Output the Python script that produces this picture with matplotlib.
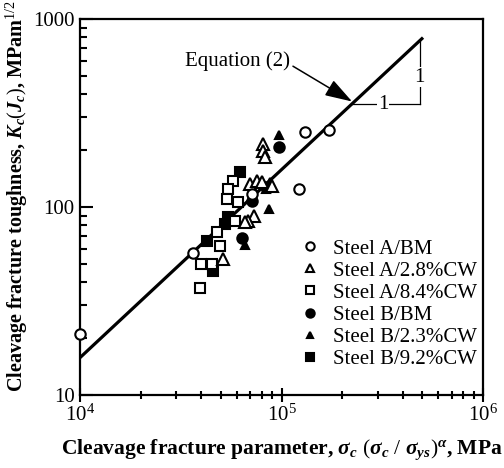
"""Cleavage fracture toughness vs cleavage fracture parameter (log-log)."""
import matplotlib
matplotlib.use("Agg")
import numpy as np
import matplotlib.pyplot as plt

plt.rcParams["font.family"] = ["Liberation Serif", "DejaVu Serif"]
plt.rcParams["mathtext.fontset"] = "custom"
plt.rcParams["mathtext.rm"] = "Liberation Serif"
plt.rcParams["mathtext.it"] = "Liberation Serif:italic:bold"
plt.rcParams["mathtext.bf"] = "Liberation Serif:bold"

# data: (parameter [MPa], Kc [MPa m^1/2])
a_bm_x = [10000, 36400, 71400, 122000, 130800, 172000]
a_bm_y = [21, 57, 117, 125, 252, 258]
a_28_x = [81000, 81000, 82800, 69800, 75600, 80000, 89700, 73000, 68200, 65900, 51300]
a_28_y = [217, 199, 185, 133, 138, 136, 130, 90, 84, 83, 52.7]
a_84_x = [57400, 54300, 53600, 60800, 58800, 47900, 49500, 39900, 45200, 39400]
a_84_y = [138, 125, 110, 106, 84, 74, 62, 50, 50, 37]
b_bm_x = [97200, 71400, 63700, 84000]
b_bm_y = [209, 108, 68, 128]
b_23_x = [97200, 86700, 65900, 84000, 88000]
b_23_y = [243, 98, 63, 125, 135]
b_92_x = [62200, 54300, 52400, 42500, 45500]
b_92_y = [154, 88, 81, 66, 45.5]

# Equation (2): Kc = C * parameter (slope 1 on log-log)
eq_c = 1.58e-3
eq_x = [1e4, 5.04e5]

SERIES = [
    (b_92_x, b_92_y, "s", "black", "Steel B/9.2%CW"),
    (b_23_x, b_23_y, "^", "black", "Steel B/2.3%CW"),
    (b_bm_x, b_bm_y, "o", "black", "Steel B/BM"),
    (a_84_x, a_84_y, "s", "white", "Steel A/8.4%CW"),
    (a_28_x, a_28_y, "^", "white", "Steel A/2.8%CW"),
    (a_bm_x, a_bm_y, "o", "white", "Steel A/BM"),
]
LEGEND_ORDER = ["Steel A/BM", "Steel A/2.8%CW", "Steel A/8.4%CW",
                "Steel B/BM", "Steel B/2.3%CW", "Steel B/9.2%CW"]

fig = plt.figure(figsize=(5.04, 4.68), dpi=100)
ax = fig.add_axes([80 / 504, 1 - 395 / 468, 403 / 504, 376 / 468])

ax.plot(eq_x, [eq_c * v for v in eq_x], color="black", lw=2.3, zorder=2,
        solid_capstyle="butt")

handles = {}
for xs, ys, mk, fc, lab in SERIES:
    sz = 7.5 if mk != "^" else 8
    if fc == "black" and mk == "^":
        sz = 6
    h, = ax.plot(xs, ys, ls="none", marker=mk, ms=sz, mfc=fc, mec="black",
                 mew=1.5, label=lab, zorder=3, clip_on=False)
    handles[lab] = h

# slope triangle
x_corner, y_top = 4.86e5, 763
y_h = 351
ax.plot([y_h / eq_c, x_corner], [y_h, y_h], color="black", lw=0.9)
ax.plot([x_corner, x_corner], [y_top, y_h], color="black", lw=0.9)
ax.text(3.2e5, y_h, "1", fontsize=15, ha="center", va="center",
        bbox=dict(fc="white", ec="none", pad=0.5))
ax.text(x_corner, 490, "1", fontsize=15, ha="center", va="center",
        bbox=dict(fc="white", ec="none", pad=0.5))

# Equation (2) callout
ax.text(6.08e4, 596, "Equation (2)", fontsize=15, ha="center", va="center")
ax.annotate("", xy=(2.24e5, 364), xytext=(1.14e5, 561),
            arrowprops=dict(arrowstyle="-|>,head_length=1.4,head_width=0.45",
                            color="black", lw=1.1, mutation_scale=12,
                            shrinkA=0, shrinkB=0))

ax.set_xscale("log")
ax.set_yscale("log")
ax.set_xlim(1e4, 1e6)
ax.set_ylim(10, 1000)
ax.set_yticks([10, 100, 1000])
ax.set_yticklabels(["10", "100", "1000"])
ax.set_xticks([1e4, 1e5, 1e6])
ax.set_xticklabels([r"$\mathrm{10^4}$", r"$\mathrm{10^5}$", r"$\mathrm{10^6}$"])
ax.tick_params(axis="y", which="major", direction="in", length=9, width=1.5,
               labelsize=15, pad=4)
ax.tick_params(axis="y", which="minor", direction="in", length=5, width=1.5)
ax.tick_params(axis="x", which="major", direction="inout", length=10, width=1.5,
               labelsize=15, pad=2)
ax.tick_params(axis="x", which="minor", direction="inout", length=6, width=1.5)
ax.tick_params(top=False, right=False, which="both")
for sp in ax.spines.values():
    sp.set_linewidth(1.6)

ax.set_xlabel(r"Cleavage fracture parameter, $\sigma_c\ (\sigma_c\ /\ \sigma_{ys})^{\alpha}$, MPa",
              fontsize=15.5, fontweight="bold", labelpad=8)
ax.set_ylabel(r"Cleavage fracture toughness, $K_c(J_c)$, MPam$^{1/2}$",
              fontsize=14.5, fontweight="bold", labelpad=2)
ax.yaxis.set_label_coords(-0.125, 0.53)

leg = ax.legend([handles[k] for k in LEGEND_ORDER], LEGEND_ORDER,
                loc="upper left", bbox_to_anchor=(0.55, 0.415), frameon=False,
                fontsize=15, handlelength=0.8, handletextpad=0.7,
                labelspacing=0.12, borderaxespad=0, borderpad=0, markerscale=0.8)

fig.savefig("out.png", dpi=100)
